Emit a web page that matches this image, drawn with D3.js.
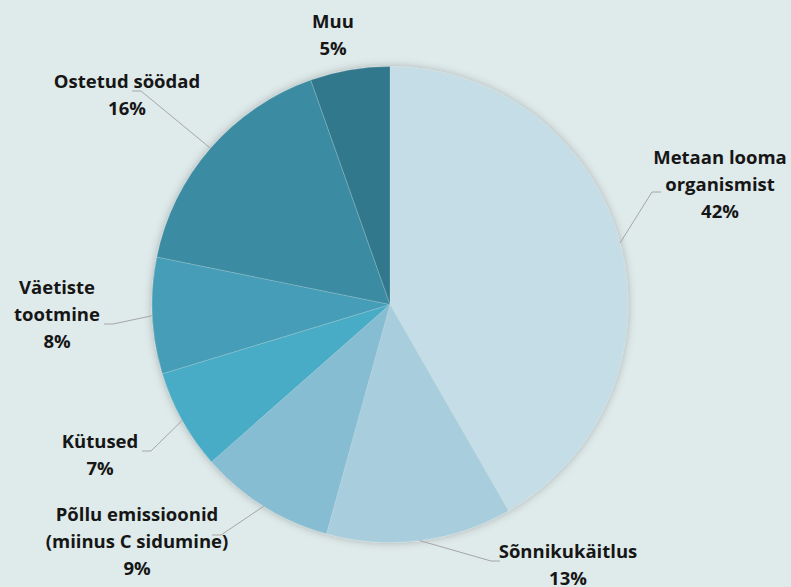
<!DOCTYPE html>
<html lang="et">
<head>
<meta charset="UTF-8">
<title>Pie</title>
<script src="https://d3js.org/d3.v7.min.js"></script>
<style>
  html, body { margin: 0; padding: 0; background: #dfeaea; }
  svg { display: block; }
  .lbl { font-family: "Open Sans", Lato, sans-serif; font-weight: bold; font-size: 18.5px; fill: #161616; }
</style>
</head>
<body>
<div id="chart"></div>
<script>
// slice names (one array per text line), values in percent, clockwise from 12 o'clock
const names = [
  ["Metaan looma", "organismist"],
  ["Sõnnikukäitlus"],
  ["Põllu emissioonid", "(miinus C sidumine)"],
  ["Kütused"],
  ["Väetiste", "tootmine"],
  ["Ostetud söödad"],
  ["Muu"]
];
const values = [41.7, 12.6, 9.2, 6.8, 7.9, 16.4, 5.4];
const colors = ["#c4dde6", "#a8cedd", "#86bdd2", "#4aacc6", "#459db7", "#3b8ca3", "#32788d"];

// label layout: centre x / first line y, and leader hook (x, y) where the leader meets the label (null = no leader)
const labelPos = [
  { x: 720, y: 158, hook: [661, 192], dir: -1 },
  { x: 568, y: 552, hook: [500, 561], dir: -1 },
  { x: 137, y: 515, hook: [212, 535], dir: 1 },
  { x: 100, y: 442, hook: [142, 451], dir: 1 },
  { x: 57,  y: 288, hook: [104, 324], dir: 1 },
  { x: 127, y: 82,  hook: [132, 91],  dir: 1 },
  { x: 333, y: 22,  hook: null }
];

const W = 791, H = 587;
const cx = 390, cy = 304.5, r = 238;
const lineH = 27;

const svg = d3.select("#chart").append("svg")
  .attr("width", W).attr("height", H);

const defs = svg.append("defs");
const f = defs.append("filter").attr("id", "shadow")
  .attr("x", "-10%").attr("y", "-10%").attr("width", "120%").attr("height", "120%");
f.append("feDropShadow").attr("dx", 0).attr("dy", 0).attr("stdDeviation", 4)
  .attr("flood-color", "#000").attr("flood-opacity", 0.25);

const pie = d3.pie().sort(null).value(d => d)(values);
const arc = d3.arc().innerRadius(0).outerRadius(r);

const g = svg.append("g").attr("transform", `translate(${cx},${cy})`);

g.append("g").attr("filter", "url(#shadow)")
  .selectAll("path")
  .data(pie)
  .join("path")
  .attr("d", arc)
  .attr("fill", (d, i) => colors[i])
  .attr("stroke", "#dfeaea")
  .attr("stroke-width", 0.4)
  .attr("stroke-opacity", 0.5);

// leader lines: from the slice edge at mid-angle to the label hook
const edge = d3.arc().innerRadius(r).outerRadius(r);
pie.forEach((d, i) => {
  const p = labelPos[i];
  if (!p.hook) return;
  const [ex, ey] = edge.centroid(d);
  const hx = p.hook[0], hy = p.hook[1];
  const elbowX = hx + p.dir * 9;
  svg.append("path")
    .attr("d", `M${hx},${hy}L${elbowX},${hy}L${cx + ex},${cy + ey}`)
    .attr("fill", "none")
    .attr("stroke", "#a6a6a6")
    .attr("stroke-width", 1);
});

// labels
pie.forEach((d, i) => {
  const p = labelPos[i];
  const lines = names[i].concat([Math.round(values[i]) + "%"]);
  const t = svg.append("text").attr("class", "lbl").attr("text-anchor", "middle");
  lines.forEach((s, k) => {
    t.append("tspan").attr("x", p.x).attr("y", p.y + k * lineH).attr("dy", "0.35em").text(s);
  });
});
</script>
</body>
</html>
